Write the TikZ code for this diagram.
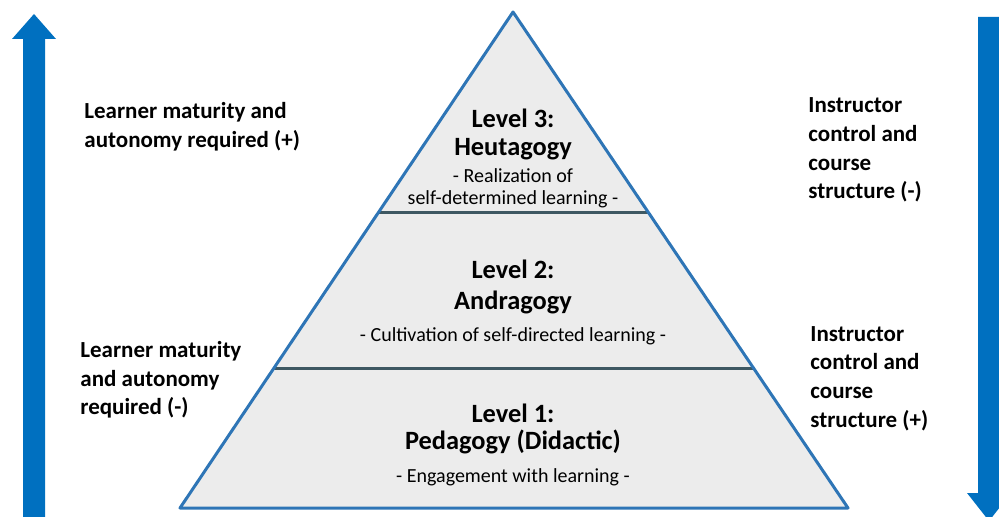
\documentclass[tikz,border=0pt]{standalone}
\usepackage{fontspec}
\setmainfont{Carlito}
\usetikzlibrary{positioning,calc}
\definecolor{arrowblue}{RGB}{0,112,192}
\definecolor{edgeblue}{RGB}{46,117,182}
\definecolor{levelgray}{RGB}{236,236,236}
\definecolor{dividergray}{RGB}{62,88,98}
\tikzset{
  sidetext/.style={anchor=west,align=left,inner sep=0pt,
    font=\fontsize{11.5}{14.3}\selectfont\bfseries},
  leveltitle/.style={align=center,inner sep=0pt,
    font=\fontsize{13.2}{13.8}\selectfont\bfseries},
  levelnote/.style={align=center,inner sep=0pt,
    font=\fontsize{10}{11}\selectfont},
}
\begin{document}
\begin{tikzpicture}[x=0.5pt,y=-0.5pt]
\clip (0,0) rectangle (999,517);

% side arrows
\fill[arrowblue] (23,517) -- (23,39) -- (12,39) -- (34,14) -- (56,39) -- (45,39) -- (45,517) -- cycle;
\fill[arrowblue] (978,17) -- (1001,17) -- (1001,493) -- (1011,493) -- (989,521) -- (967,493) -- (978,493) -- cycle;

% pyramid
\coordinate (apex) at (513,12);
\coordinate (baseL) at (180,508);
\coordinate (baseR) at (848,508);
\fill[levelgray] (apex) -- (baseR) -- (baseL) -- cycle;
\draw[dividergray,line width=1.5pt] ($(apex)!0.405!(baseL)$) -- ($(apex)!0.405!(baseR)$);
\draw[dividergray,line width=1.5pt] ($(apex)!0.718!(baseL)$) -- ($(apex)!0.718!(baseR)$);
\draw[edgeblue,line width=1.5pt,line join=round] (apex) -- (baseR) -- (baseL) -- cycle;

% level texts
\node[leveltitle] (lvlThree) at (513,134.5) {Level 3:\\Heutagogy};
\node[levelnote] (noteThree) at (513,188) {- Realization of\\self-determined learning -};
\node[leveltitle] (lvlTwo) at (513,287) {Level 2:\\[1.5pt]Andragogy};
\node[levelnote] (noteTwo) at (513,336) {- Cultivation of self-directed learning -};
\node[leveltitle] (lvlOne) at (513,429) {Level 1:\\Pedagogy (Didactic)};
\node[levelnote] (noteOne) at (513,477) {- Engagement with learning -};

% side labels
\node[sidetext] (learnerTop) at (84,126.5) {Learner maturity and\\autonomy required (+)};
\node[sidetext] (learnerBot) at (80,380) {Learner maturity\\and autonomy\\required (-)};
\node[sidetext] (instrTop) at (808,150) {Instructor\\control and\\course\\structure (-)};
\node[sidetext] (instrBot) at (810,378.5) {Instructor\\control and\\course\\structure (+)};
\end{tikzpicture}
\end{document}
